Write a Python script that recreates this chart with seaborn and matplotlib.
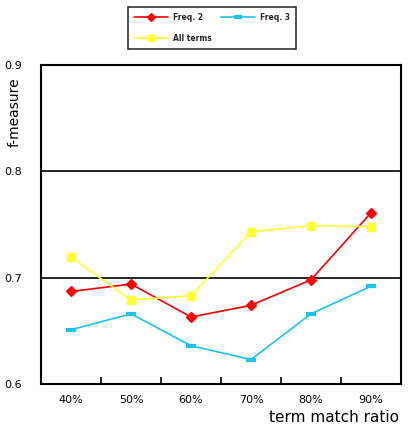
import matplotlib
matplotlib.use("Agg")
import matplotlib.pyplot as plt
import pandas as pd
import seaborn as sns

# data
ratios = ['40%', '50%', '60%', '70%', '80%', '90%']
freq2 = [0.687, 0.694, 0.663, 0.674, 0.698, 0.761]
freq3 = [0.651, 0.666, 0.636, 0.623, 0.666, 0.692]
all_terms = [0.719, 0.679, 0.683, 0.743, 0.749, 0.748]

sns.set_style('white')
plt.rcParams['font.family'] = ['DejaVu Sans']

df = pd.DataFrame({
    'ratio': ratios * 3,
    'f': freq2 + freq3 + all_terms,
    'series': ['Freq. 2'] * 6 + ['Freq. 3'] * 6 + ['All terms'] * 6,
})

fig = plt.figure(figsize=(4.08, 4.24), dpi=100)
ax = fig.add_axes([41 / 408, 1 - 384 / 424, 360 / 408, 319 / 424])

styles = {
    'Freq. 2': dict(color='#FF0000', marker='D', markersize=5, lw=1.2),
    'Freq. 3': dict(color='#19C3EE', marker='_', markersize=7, mew=3, lw=1.2),
    'All terms': dict(color='#FFFF33', marker='s', markersize=6, lw=1.2),
}
for name, st in styles.items():
    sub = df[df['series'] == name]
    sns.lineplot(data=sub, x='ratio', y='f', ax=ax, label=name,
                 color=st['color'], marker=st['marker'], markersize=st['markersize'],
                 markeredgewidth=st.get('mew', 1), markeredgecolor=st['color'],
                 linewidth=st['lw'], sort=False)

ax.set_xlim(-0.5, 5.5)
ax.set_ylim(0.6, 0.9)
ax.set_yticks([0.6, 0.7, 0.8, 0.9])
ax.set_yticklabels(['0.6', '0.7', '0.8', '0.9'], fontsize=8, color='black')
ax.set_xticks(range(6))
ax.set_xticklabels(ratios, fontsize=8, color='black')
ax.tick_params(axis='x', which='major', length=0, pad=8)
ax.tick_params(axis='y', length=0, pad=14)
ax.set_xticks([0.5, 1.5, 2.5, 3.5, 4.5], minor=True)
ax.tick_params(axis='x', which='minor', bottom=True, direction='in', length=5,
               width=1.2, color='black')

for yv in [0.7, 0.8]:
    ax.axhline(yv, color='black', lw=1.2, zorder=0)
for s in ax.spines.values():
    s.set_color('black')
    s.set_linewidth(1.5)

ax.set_xlabel('')
ax.set_ylabel('')
fig.text(399 / 408, 1 - 418 / 424, 'term match ratio', ha='right', va='center',
         fontsize=11, color='black')
fig.text(15 / 408, 1 - 112 / 424, 'f-measure', rotation=90, ha='center', va='center',
         fontsize=10, color='black')

handles, labels = ax.get_legend_handles_labels()
order = [0, 2, 1]
leg = ax.legend([handles[i] for i in order], [labels[i] for i in order],
                loc='center', bbox_to_anchor=(212 / 408, 1 - 28 / 424),
                bbox_transform=fig.transFigure, ncol=2,
                prop={'size': 5.5, 'weight': 'bold'},
                frameon=True, fancybox=False, edgecolor='black', markerscale=0.8,
                handlelength=4.5, handletextpad=0.6, columnspacing=1.2,
                borderpad=0.8, labelspacing=1.6)
leg.get_frame().set_linewidth(1.2)

fig.savefig('out.png', dpi=100)
